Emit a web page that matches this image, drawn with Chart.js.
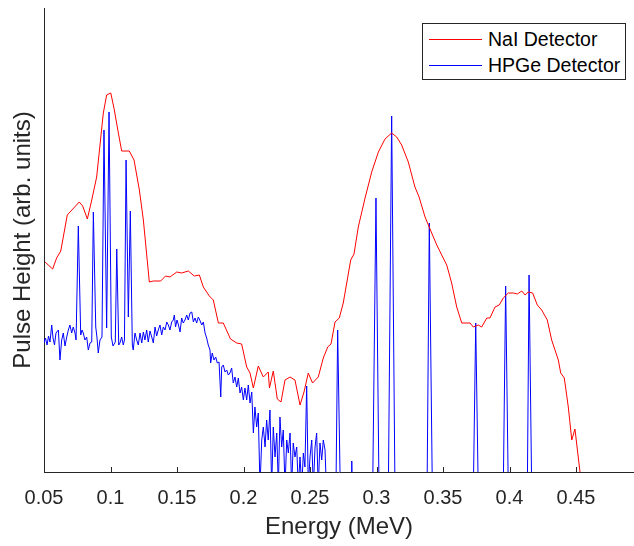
<!DOCTYPE html>
<html>
<head>
<meta charset="utf-8">
<script src="https://cdn.jsdelivr.net/npm/chart.js@4/dist/chart.umd.min.js"></script>
<style>
  html, body { margin: 0; padding: 0; background: #fff; }
  #wrap { position: relative; width: 634px; height: 546px; }
  #legend {
    position: absolute; left: 422px; top: 23px; width: 202px; height: 55px;
    border: 1px solid #262626; background: #fff;
    font-family: "Liberation Sans", Arial, sans-serif; font-size: 19.5px; color: #000;
  }
  #legend .row { position: absolute; left: 0; height: 24px; line-height: 24px; }
  #legend .swatch { position: absolute; left: 6px; top: 12px; width: 53px; height: 1px; }
  #legend .label { position: absolute; left: 65px; top: 0; white-space: nowrap; }
</style>
</head>
<body>
<div id="wrap">
  <canvas id="spectrum" width="634" height="546"></canvas>
  <div id="legend"></div>
</div>
<script>
// NaI detector spectrum (energy in MeV, pulse height in arb. units)
const naiEnergy = [
  0.0508, 0.0565, 0.0595, 0.0626, 0.0675, 0.0765, 0.0791, 0.0826, 0.0859, 0.0896,
  0.0946, 0.0971, 0.1002, 0.1026, 0.1059, 0.1084, 0.1141, 0.1177, 0.1217, 0.1247,
  0.1292, 0.1322, 0.1377, 0.1414, 0.1447, 0.1498, 0.1535, 0.1585, 0.1630, 0.1668,
  0.1698, 0.1743, 0.1773, 0.1811, 0.1848, 0.1902, 0.1949, 0.1986, 0.2024, 0.2049,
  0.2074, 0.2111, 0.2149, 0.2186, 0.2195, 0.2224, 0.2254, 0.2282, 0.2312, 0.2350,
  0.2387, 0.2425, 0.2455, 0.2487, 0.2519, 0.2562, 0.2600, 0.2633, 0.2658, 0.2688,
  0.2720, 0.2750, 0.2806, 0.2831, 0.2863, 0.2914, 0.2964, 0.3014, 0.3064, 0.3114,
  0.3152, 0.3189, 0.3239, 0.3289, 0.3320, 0.3365, 0.3415, 0.3453, 0.3490, 0.3528,
  0.3565, 0.3603, 0.3641, 0.3703, 0.3728, 0.3765, 0.3791, 0.3829, 0.3853, 0.3891,
  0.3923, 0.3953, 0.3991, 0.4029, 0.4059, 0.4092, 0.4117, 0.4141, 0.4174, 0.4209,
  0.4242, 0.4284, 0.4317, 0.4342, 0.4367, 0.4385, 0.4412, 0.4442, 0.4468, 0.4492,
  0.4530, 0.4545
];
const naiHeight = [
  210, 203, 214, 221, 257, 270, 266, 253, 272, 295,
  359, 377, 379, 364, 339, 321, 321, 312, 282, 252,
  190, 191, 191, 196, 195, 200, 199, 201, 196, 197,
  185, 176, 172, 149, 149, 133, 129, 128, 105, 99,
  84, 106, 95, 100, 84, 101, 73, 70, 92, 95,
  92, 67, 80, 99, 89, 95, 114, 125, 128, 150,
  154, 169, 212, 218, 245, 274, 300, 320, 333, 339,
  335, 327, 310, 285, 275, 255, 239, 227, 217, 207,
  189, 165, 149, 149, 145, 147, 145, 154, 154, 165,
  167, 174, 179, 179, 178, 181, 177, 180, 179, 167,
  162, 152, 132, 122, 112, 99, 94, 65, 32, 43,
  0, -15
];

// HPGe detector spectrum
const hpgeEnergy = [
  0.0500, 0.0511, 0.0523, 0.0534, 0.0545, 0.0558, 0.0568, 0.0579, 0.0590, 0.0608,
  0.0620, 0.0633, 0.0645, 0.0658, 0.0671, 0.0683, 0.0695, 0.0708, 0.0720, 0.0733,
  0.0741, 0.0758, 0.0776, 0.0786, 0.0795, 0.0808, 0.0821, 0.0833, 0.0846, 0.0859,
  0.0871, 0.0889, 0.0898, 0.0908, 0.0921, 0.0936, 0.0951, 0.0971, 0.0989, 0.1006,
  0.1019, 0.1036, 0.1047, 0.1062, 0.1071, 0.1084, 0.1096, 0.1105, 0.1117, 0.1134,
  0.1149, 0.1164, 0.1171, 0.1184, 0.1197, 0.1209, 0.1222, 0.1235, 0.1247, 0.1259,
  0.1272, 0.1284, 0.1297, 0.1310, 0.1322, 0.1335, 0.1347, 0.1359, 0.1372, 0.1385,
  0.1397, 0.1410, 0.1423, 0.1435, 0.1447, 0.1460, 0.1472, 0.1480, 0.1489, 0.1500,
  0.1511, 0.1523, 0.1535, 0.1547, 0.1560, 0.1573, 0.1585, 0.1598, 0.1611, 0.1623,
  0.1635, 0.1648, 0.1660, 0.1668, 0.1686, 0.1698, 0.1711, 0.1723, 0.1735, 0.1748,
  0.1753, 0.1765, 0.1778, 0.1791, 0.1803, 0.1816, 0.1829, 0.1836, 0.1848, 0.1861,
  0.1874, 0.1886, 0.1898, 0.1911, 0.1923, 0.1936, 0.1949, 0.1961, 0.1974, 0.1986,
  0.1999, 0.2011, 0.2024, 0.2036, 0.2049, 0.2062, 0.2074, 0.2086, 0.2099, 0.2111,
  0.2124, 0.2137, 0.2149, 0.2162, 0.2174, 0.2186, 0.2199, 0.2212, 0.2224, 0.2237,
  0.2250, 0.2262, 0.2274, 0.2287, 0.2299, 0.2312, 0.2325, 0.2337, 0.2350, 0.2362,
  0.2374, 0.2387, 0.2400, 0.2412, 0.2425, 0.2438, 0.2450, 0.2462, 0.2475, 0.2487,
  0.2500, 0.2513, 0.2525, 0.2538, 0.2550, 0.2562, 0.2575, 0.2588, 0.2600, 0.2613,
  0.2624, 0.2695, 0.2708, 0.2728, 0.2810, 0.2814, 0.2817, 0.2971, 0.2996, 0.3019,
  0.3089, 0.3114, 0.3139, 0.3380, 0.3397, 0.3420, 0.3728, 0.3746, 0.3765, 0.3953,
  0.3971, 0.3991, 0.4134, 0.4147, 0.4167, 0.4936
];
const hpgeHeight = [
  129, 134, 127, 136, 130, 147, 134, 127, 139, 142,
  112, 132, 139, 126, 135, 142, 147, 139, 145, 139,
  132, 246, 137, 142, 139, 132, 135, 122, 129, 130,
  260, 145, 135, 119, 132, 135, 342, 144, 360, 135,
  126, 130, 223, 127, 129, 135, 127, 132, 312, 155,
  261, 127, 122, 139, 132, 127, 139, 129, 140, 132,
  142, 130, 141, 135, 129, 145, 136, 142, 147, 137,
  145, 142, 150, 147, 142, 150, 152, 157, 145, 152,
  147, 140, 154, 149, 152, 157, 152, 159, 160, 150,
  154, 149, 155, 153, 147, 150, 139, 134, 127, 122,
  109, 119, 112, 115, 109, 110, 75, 105, 107, 100,
  102, 97, 99, 104, 89, 95, 85, 94, 79, 85,
  72, 84, 72, 87, 69, 80, 39, 65, 45, 59,
  -15, 32, 45, 25, 52, 32, 62, -15, 45, 15,
  39, -15, 55, 25, 42, -15, 32, 19, 39, -15,
  29, 15, 25, -15, 15, -15, 19, 5, 86, -15,
  15, 32, -15, 25, 39, -15, 29, 12, 32, 22,
  -20, -20, 142, -20, -20, 11, -20, -20, 274, -20,
  -20, 356, -20, -20, 249, -20, -20, 149, -20, -20,
  186, -20, -20, 197, -20, -20
];

const xTicks = [0.05, 0.1, 0.15, 0.2, 0.25, 0.3, 0.35, 0.4, 0.45];

const axisColor = '#262626';
const fontFamily = '"Liberation Sans", Arial, sans-serif';

function toPoints(xs, ys) {
  return xs.map((x, i) => ({ x: x, y: ys[i] }));
}

// MATLAB-style inward tick marks on the energy axis
const inwardTicks = {
  id: 'inwardTicks',
  afterDatasetsDraw(chart) {
    const ctx = chart.ctx;
    const xs = chart.scales.x;
    const bottom = chart.chartArea.bottom;
    ctx.save();
    ctx.strokeStyle = axisColor;
    ctx.lineWidth = 1;
    ctx.beginPath();
    xTicks.forEach(v => {
      const px = Math.round(xs.getPixelForValue(v)) + 0.5;
      ctx.moveTo(px, bottom);
      ctx.lineTo(px, bottom - 5);
    });
    ctx.stroke();
    ctx.restore();
  }
};

let ctx = document.getElementById('spectrum').getContext('2d');
let myChart = new Chart(ctx, {
  type: 'line',
  data: {
    datasets: [
      {
        label: 'NaI Detector',
        data: toPoints(naiEnergy, naiHeight),
        borderColor: '#ff0000',
        borderWidth: 1,
      }, {
        label: 'HPGe Detector',
        data: toPoints(hpgeEnergy, hpgeHeight),
        borderColor: '#0000ff',
        borderWidth: 1,
      }
    ]
  },
  options: {
    responsive: false,
    animation: false,
    devicePixelRatio: 1,
    layout: { padding: { top: 8, right: 0, left: 0, bottom: 0 } },
    elements: { point: { radius: 0 }, line: { tension: 0 } },
    plugins: { legend: { display: false }, tooltip: { enabled: false } },
    scales: {
      x: {
        type: 'linear',
        min: 0.05,
        max: 0.4936,
        afterBuildTicks: s => { s.ticks = xTicks.map(v => ({ value: v })); },
        afterFit: s => { s.height = 74; },
        grid: { drawOnChartArea: false, drawTicks: false },
        border: { color: axisColor, width: 1 },
        ticks: {
          padding: 14,
          color: axisColor,
          font: { family: fontFamily, size: 20 },
          maxRotation: 0,
          callback: v => String(v)
        },
        title: {
          display: true,
          text: 'Energy (MeV)',
          color: axisColor,
          font: { family: fontFamily, size: 24 },
          padding: { top: 0, bottom: 4 }
        }
      },
      y: {
        min: 0,
        max: 464,
        afterFit: s => { s.width = 44; },
        grid: { display: false },
        border: { color: axisColor, width: 1 },
        ticks: { display: false },
        title: {
          display: true,
          text: 'Pulse Height (arb. units)',
          color: axisColor,
          font: { family: fontFamily, size: 24 },
          padding: { top: 9, bottom: 0 }
        }
      }
    }
  },
  plugins: [inwardTicks]
});

// legend box in the upper right corner
const legend = document.getElementById('legend');
myChart.data.datasets.forEach((ds, i) => {
  const row = document.createElement('div');
  row.className = 'row';
  row.style.top = (3 + i * 26) + 'px';
  row.innerHTML = '<div class="swatch" style="background:' + ds.borderColor + '"></div>' +
    '<div class="label">' + ds.label + '</div>';
  legend.appendChild(row);
});
</script>
</body>
</html>
